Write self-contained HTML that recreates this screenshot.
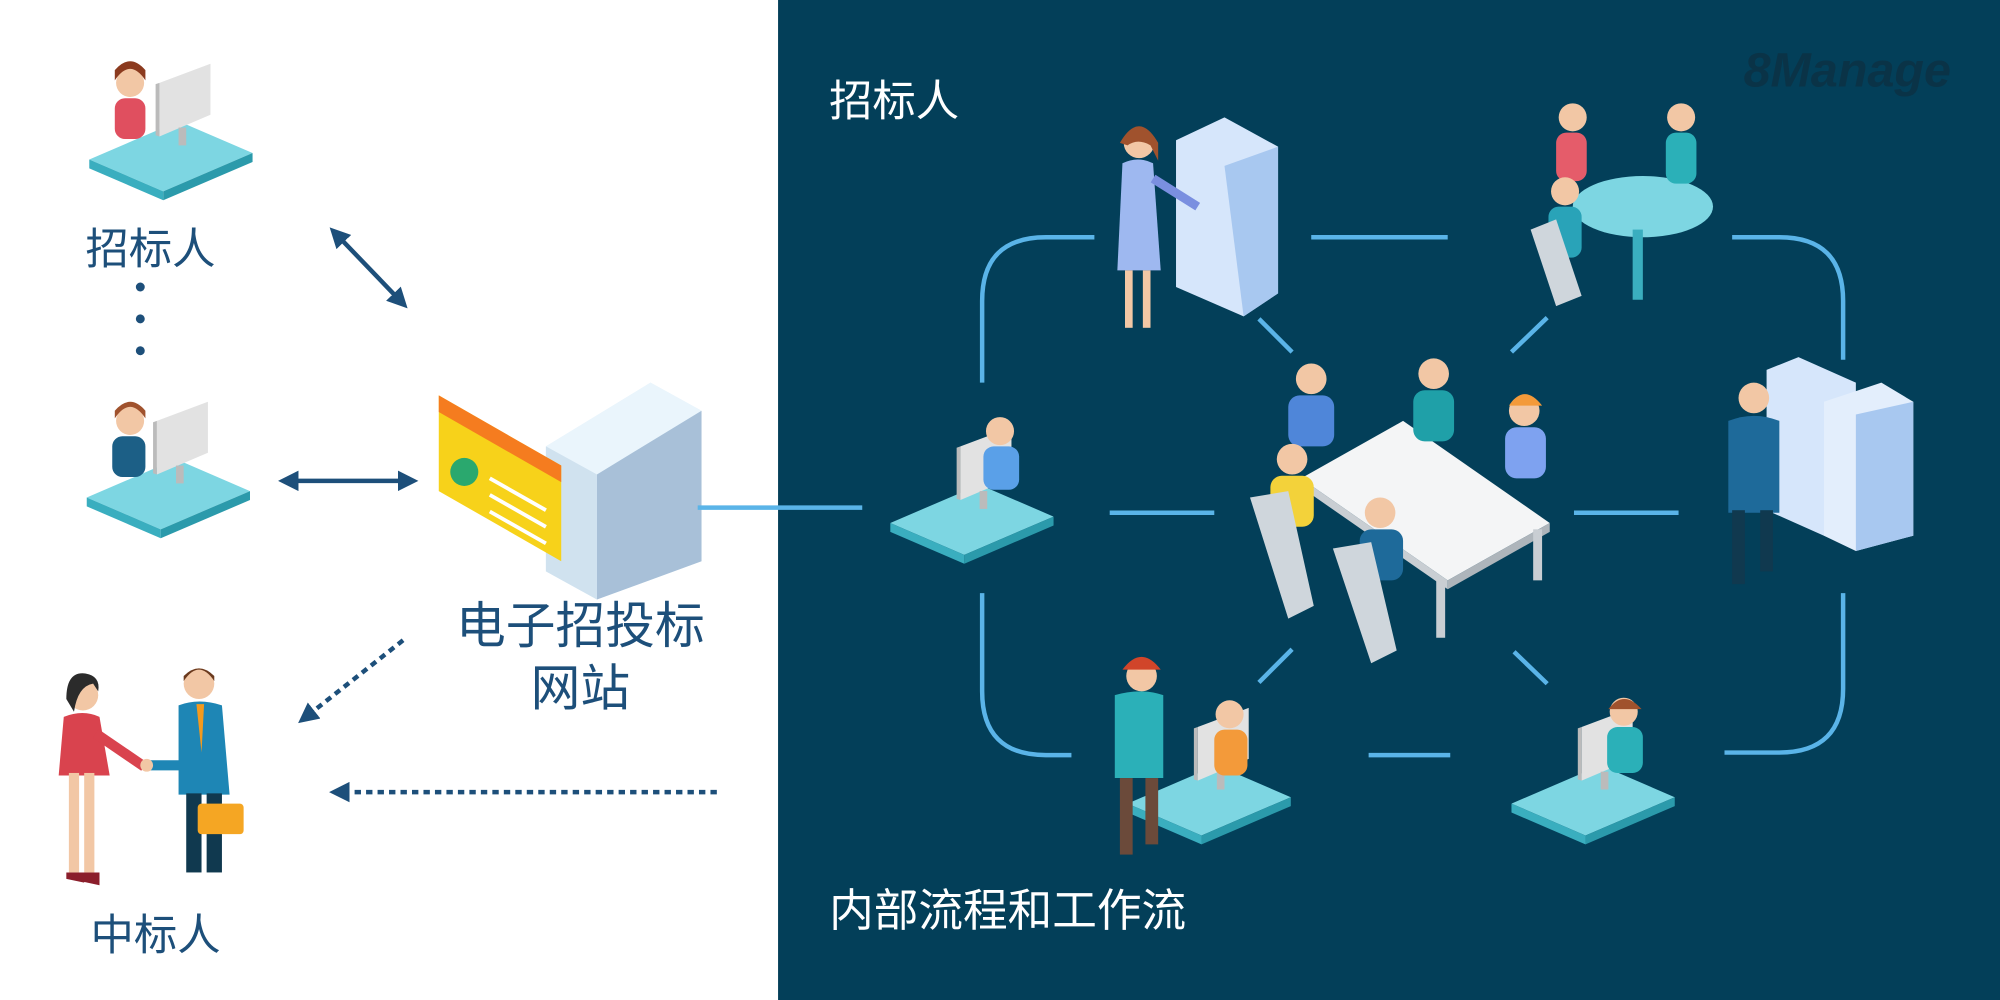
<!DOCTYPE html>
<html><head><meta charset="utf-8"><style>
html,body{margin:0;padding:0;background:#fff}
svg{display:block}
text{font-family:"Liberation Sans","Noto Sans CJK SC",sans-serif}
</style></head><body>
<svg width="2000" height="1000" viewBox="0 0 1568 784" xmlns="http://www.w3.org/2000/svg">
<defs>
<marker id="ah2" markerWidth="16" markerHeight="16" refX="8" refY="8" orient="auto-start-reverse" markerUnits="userSpaceOnUse" viewBox="0 0 16 16"><path d="M0,0 L16,8 L0,16 z" fill="#1d4f7a"/></marker>
<g id="desk">
<polygon points="0,30 70,0 128,25 58,55" fill="#7dd6e2"/>
<polygon points="0,30 58,55 58,62 0,37" fill="#3aaebf"/>
<polygon points="58,55 128,25 128,32 58,62" fill="#2b9aab"/>
<polygon points="55,-30 95,-45 95,-5 55,12" fill="#e2e2e2"/>
<polygon points="52,-29 55,-30 55,12 52,11" fill="#bbb"/>
<rect x="70" y="5" width="6" height="14" fill="#bbb"/>
</g>
</defs>
<rect x="0" y="0" width="610" height="784" fill="#fff"/>
<rect x="610" y="0" width="958" height="784" fill="#033f59"/>

<g transform="translate(70,95)"><use href="#desk"/>
<circle cx="32" cy="-30" r="11" fill="#f2c7a5"/><path d="M20,-32 q12,-18 24,0 l0,-8 q-12,-14 -24,0z" fill="#8b3a1e"/>
<rect x="20" y="-18" width="24" height="32" rx="8" fill="#e04f5f"/></g>
<g transform="translate(68,360)"><use href="#desk"/>
<circle cx="34" cy="-30" r="11" fill="#f2c7a5"/><path d="M22,-32 q12,-18 24,0 l0,-6 q-12,-14 -24,0z" fill="#a0522d"/>
<rect x="20" y="-18" width="26" height="32" rx="8" fill="#1c5f86"/></g>

<text x="67" y="207" font-size="34" fill="#1d4f7a">招标人</text>
<circle cx="110" cy="225" r="3.5" fill="#1d4f7a"/><circle cx="110" cy="250" r="3.5" fill="#1d4f7a"/><circle cx="110" cy="275" r="3.5" fill="#1d4f7a"/>

<g>
<circle cx="65" cy="545" r="12" fill="#f2c7a5"/><path d="M52,548 q0,-22 15,-20 q12,2 10,14 l-4,-6 q-12,2 -15,22z" fill="#2b2b2b"/>
<path d="M50,562 q15,-6 28,0 l8,46 l-40,0z" fill="#d9434e"/>
<rect x="54" y="606" width="8" height="78" fill="#f2c7a5"/><rect x="66" y="606" width="8" height="78" fill="#f2c7a5"/>
<path d="M52,684 l14,0 l0,8 l-14,-3z M64,684 l14,0 l0,10 l-14,-3z" fill="#8b1e2b"/>
<path d="M75,575 l38,26" stroke="#d9434e" stroke-width="8"/>
<circle cx="156" cy="536" r="12" fill="#f2c7a5"/><path d="M144,534 q12,-18 24,0 l0,-4 q-12,-12 -24,0z" fill="#6b3a1e"/>
<path d="M140,553 q16,-6 34,0 l6,70 l-40,0z" fill="#1e86b5"/>
<path d="M154,552 l6,0 l-2,38 z" fill="#f39a1e"/>
<rect x="146" y="622" width="12" height="62" fill="#10394f"/><rect x="162" y="622" width="12" height="62" fill="#10394f"/>
<path d="M142,600 l-25,0" stroke="#1e86b5" stroke-width="8"/>
<circle cx="115" cy="600" r="5" fill="#f2c7a5"/>
<rect x="155" y="630" width="36" height="24" rx="3" fill="#f5a623"/>
</g>
<text x="71" y="745" font-size="34" fill="#1d4f7a">中标人</text>

<line x1="264" y1="184" x2="314" y2="236" stroke="#1d4f7a" stroke-width="3.5" marker-start="url(#ah2)" marker-end="url(#ah2)"/>
<line x1="226" y1="377" x2="320" y2="377" stroke="#1d4f7a" stroke-width="3.5" marker-start="url(#ah2)" marker-end="url(#ah2)"/>
<line x1="316" y1="502" x2="240" y2="562" stroke="#1d4f7a" stroke-width="3.5" stroke-dasharray="5,4" marker-end="url(#ah2)"/>
<line x1="562" y1="621" x2="266" y2="621" stroke="#1d4f7a" stroke-width="3.5" stroke-dasharray="5,4" marker-end="url(#ah2)"/>

<polygon points="428,350 510,300 550,322 550,440 468,470 428,448" fill="#dfeef8"/>
<polygon points="428,350 510,300 550,322 468,372" fill="#eaf5fc"/>
<polygon points="468,372 550,322 550,440 468,470" fill="#a8c0d8"/>
<polygon points="428,350 468,372 468,470 428,448" fill="#d0e2ef"/>
<polygon points="344,310 440,365 440,440 344,385" fill="#f7d21a"/>
<polygon points="344,310 440,365 440,378 344,323" fill="#f57c1f"/>
<circle cx="364" cy="370" r="11" fill="#2aa86e"/>
<line x1="384" y1="375" x2="428" y2="400" stroke="#fff" stroke-width="3"/>
<line x1="384" y1="388" x2="428" y2="413" stroke="#fff" stroke-width="3"/>
<line x1="384" y1="401" x2="428" y2="426" stroke="#fff" stroke-width="3"/>
<text x="455" y="504" font-size="39" fill="#1d4f7a" text-anchor="middle">电子招投标</text>
<text x="455" y="553" font-size="39" fill="#1d4f7a" text-anchor="middle">网站</text>

<text x="650" y="91" font-size="34" fill="#fff">招标人</text>
<text x="650" y="726" font-size="35" fill="#fff">内部流程和工作流</text>
<text x="1367" y="68" font-size="38" font-weight="bold" font-style="italic" fill="#0a3347">8Manage</text>

<g stroke="#5ab4e8" stroke-width="3.5" fill="none">
<path d="M770,300 L770,236 Q770,186 820,186 L858,186"/>
<line x1="1028" y1="186" x2="1135" y2="186"/>
<path d="M1358,186 L1395,186 Q1445,186 1445,236 L1445,282"/>
<path d="M1445,465 L1445,540 Q1445,590 1395,590 L1352,590"/>
<line x1="1073" y1="592" x2="1137" y2="592"/>
<path d="M770,465 L770,542 Q770,592 820,592 L840,592"/>
<line x1="870" y1="402" x2="952" y2="402"/>
<line x1="1234" y1="402" x2="1316" y2="402"/>
<line x1="547" y1="398" x2="676" y2="398"/>
<line x1="987" y1="250" x2="1013" y2="276"/>
<line x1="1185" y1="276" x2="1213" y2="249"/>
<line x1="987" y1="535" x2="1013" y2="509"/>
<line x1="1187" y1="511" x2="1213" y2="536"/>
</g>

<polygon points="922,110 960,92 1002,115 1002,230 975,248 922,225" fill="#d6e6fb"/>
<polygon points="960,130 1002,115 1002,230 975,248" fill="#a8c8f0"/>
<circle cx="893" cy="112" r="12" fill="#f2c7a5"/><path d="M878,112 q15,-26 30,0 l0,14 l-6,-12 q-10,-6 -18,0z" fill="#a0522d"/>
<path d="M880,128 q12,-6 24,0 l6,84 l-34,0z" fill="#9eb8f0"/>
<rect x="882" y="212" width="6" height="45" fill="#f2c7a5"/><rect x="896" y="212" width="6" height="45" fill="#f2c7a5"/>
<path d="M904,140 l35,22" stroke="#7a8fe0" stroke-width="7"/>
<ellipse cx="1288" cy="162" rx="55" ry="24" fill="#7dd6e2"/>
<rect x="1280" y="180" width="8" height="55" fill="#3aaebf"/>
<circle cx="1233" cy="92" r="11" fill="#f2c7a5"/><rect x="1220" y="104" width="24" height="38" rx="8" fill="#e55c6a"/>
<circle cx="1318" cy="92" r="11" fill="#f2c7a5"/><rect x="1306" y="104" width="24" height="40" rx="8" fill="#2bb0b8"/>
<circle cx="1227" cy="150" r="11" fill="#f2c7a5"/><rect x="1214" y="162" width="26" height="40" rx="8" fill="#29a3b8"/>
<path d="M1200,180 l20,-8 l20,60 l-20,8z" fill="#cfd6dc"/>
<polygon points="1385,290 1410,280 1455,300 1455,410 1430,420 1385,400" fill="#d6e6fb"/>
<polygon points="1430,315 1475,300 1500,315 1500,420 1455,432 1430,420" fill="#e3eefc"/>
<polygon points="1455,325 1500,315 1500,420 1455,432" fill="#a8c8f0"/>
<circle cx="1375" cy="312" r="12" fill="#f2c7a5"/>
<path d="M1355,330 q20,-8 40,0 l0,72 l-40,0z" fill="#1e6a9a"/>
<rect x="1358" y="400" width="10" height="58" fill="#10394f"/><rect x="1380" y="400" width="10" height="48" fill="#10394f"/>
<g transform="translate(698,380)"><use href="#desk"/>
<circle cx="86" cy="-42" r="11" fill="#f2c7a5"/><rect x="73" y="-30" width="28" height="34" rx="8" fill="#5aa0e8"/></g>
<polygon points="1020,375 1100,330 1215,410 1135,455" fill="#f4f5f6"/>
<polygon points="1020,375 1135,455 1135,462 1020,382" fill="#c9ced3"/>
<polygon points="1135,455 1215,410 1215,417 1135,462" fill="#aeb5bb"/>
<rect x="1126" y="455" width="7" height="45" fill="#c9ced3"/><rect x="1202" y="415" width="7" height="40" fill="#c9ced3"/>
<circle cx="1028" cy="297" r="12" fill="#f2c7a5"/><rect x="1010" y="310" width="36" height="40" rx="9" fill="#4f86d9"/>
<circle cx="1124" cy="293" r="12" fill="#f2c7a5"/><rect x="1108" y="306" width="32" height="40" rx="9" fill="#1fa0a8"/>
<circle cx="1195" cy="322" r="12" fill="#f2c7a5"/><path d="M1183,318 q12,-18 26,0z" fill="#f39a3a"/><rect x="1180" y="335" width="32" height="40" rx="9" fill="#7ea2f0"/>
<circle cx="1013" cy="360" r="12" fill="#f2c7a5"/><rect x="996" y="373" width="34" height="40" rx="9" fill="#f3d23a"/>
<circle cx="1082" cy="402" r="12" fill="#f2c7a5"/><rect x="1066" y="415" width="34" height="40" rx="9" fill="#1e6a9a"/>
<path d="M980,390 l30,-5 l20,90 l-20,10z M1045,430 l30,-5 l20,85 l-20,10z" fill="#cfd6dc"/>
<g transform="translate(884,600)"><use href="#desk"/>
<circle cx="80" cy="-40" r="11" fill="#f2c7a5"/><rect x="68" y="-28" width="26" height="36" rx="8" fill="#f39a3a"/></g>
<circle cx="895" cy="530" r="12" fill="#f2c7a5"/><path d="M880,525 q15,-20 30,0z" fill="#d1452a"/>
<path d="M874,545 q20,-6 38,0 l0,65 l-38,0z" fill="#2bb0b8"/>
<rect x="878" y="610" width="10" height="60" fill="#6b4a3a"/><rect x="898" y="610" width="10" height="52" fill="#6b4a3a"/>
<g transform="translate(1185,600)"><use href="#desk"/>
<circle cx="88" cy="-42" r="11" fill="#f2c7a5"/><path d="M76,-44 q12,-16 26,0z" fill="#a0522d"/><rect x="75" y="-30" width="28" height="36" rx="8" fill="#2bb0b8"/></g>
</svg>
</body></html>
